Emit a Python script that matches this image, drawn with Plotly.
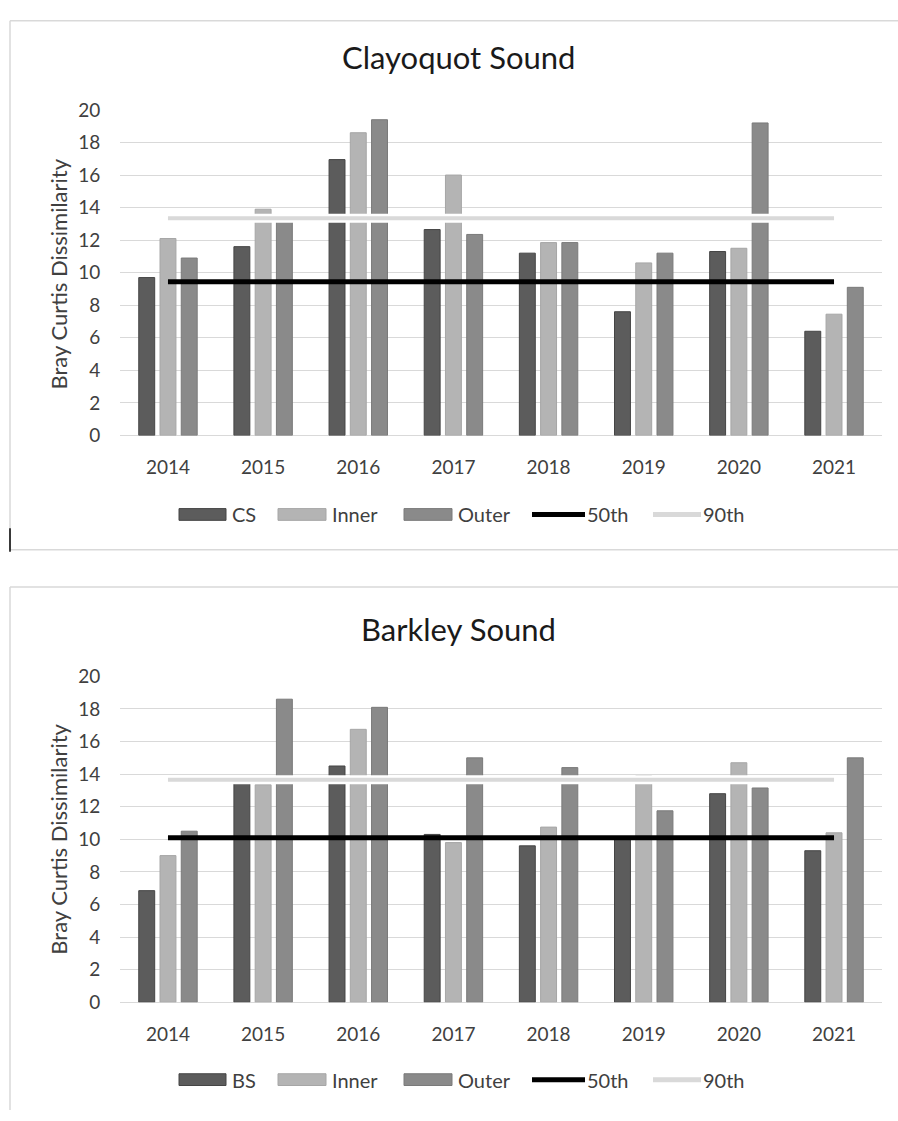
import plotly.graph_objects as go

W, H = 898, 1121

years = ["2014", "2015", "2016", "2017", "2018", "2019", "2020", "2021"]

# Clayoquot Sound
cs_site = [9.7, 11.6, 16.95, 12.65, 11.2, 7.6, 11.3, 6.4]
cs_inner = [12.1, 13.9, 18.6, 16.0, 11.85, 10.6, 11.5, 7.45]
cs_outer = [10.9, 13.2, 19.4, 12.35, 11.85, 11.2, 19.2, 9.1]
cs_p50 = 9.45
cs_p90 = 13.35

# Barkley Sound
bs_site = [6.85, 13.5, 14.5, 10.3, 9.6, 10.1, 12.8, 9.3]
bs_inner = [9.0, 13.35, 16.75, 9.8, 10.75, 13.9, 14.7, 10.4]
bs_outer = [10.5, 18.6, 18.1, 15.0, 14.4, 11.75, 13.15, 15.0]
bs_p50 = 10.1
bs_p90 = 13.65

bar_names_top = ["CS", "Inner", "Outer"]
bar_names_bot = ["BS", "Inner", "Outer"]
line_names = ["50th", "90th"]

FONT = "Lato"
TXT = "#404040"
GRID = "#d9d9d9"
BOX = "#d9d9d9"
bar_fill = ["#5c5c5c", "#b4b4b4", "#8a8a8a"]
bar_edge = ["#454545", "#a6a6a6", "#7a7a7a"]
p50_col = "#000000"
p90_col = "#d9d9d9"


def px(x):
    return x / W


def py(y):
    return 1 - y / H


fig = go.Figure()


def add_panel(xa, ya, vals, names, p50, p90):
    xr = "x" if xa == 1 else "x%d" % xa
    yr = "y" if ya == 1 else "y%d" % ya
    for i, (v, n) in enumerate(zip(vals, names)):
        fig.add_trace(go.Bar(
            x=years, y=v, name=n, xaxis=xr, yaxis=yr,
            marker=dict(color=bar_fill[i], line=dict(color=bar_edge[i], width=1)),
            showlegend=False))
    # 90th percentile line with white halo
    fig.add_trace(go.Scatter(x=years, y=[p90] * len(years), mode="lines",
                             line=dict(color="white", width=9), xaxis=xr, yaxis=yr,
                             showlegend=False, hoverinfo="skip"))
    fig.add_trace(go.Scatter(x=years, y=[p90] * len(years), mode="lines", name="90th",
                             line=dict(color=p90_col, width=4), xaxis=xr, yaxis=yr,
                             showlegend=False))
    fig.add_trace(go.Scatter(x=years, y=[p50] * len(years), mode="lines", name="50th",
                             line=dict(color=p50_col, width=5), xaxis=xr, yaxis=yr,
                             showlegend=False))


add_panel(1, 1, [cs_site, cs_inner, cs_outer], bar_names_top, cs_p50, cs_p90)
add_panel(2, 2, [bs_site, bs_inner, bs_outer], bar_names_bot, bs_p50, bs_p90)

xdom = [px(120.4), px(881.6)]
axis_x = dict(domain=xdom, showgrid=False, showline=False, zeroline=False,
              tickfont=dict(family=FONT, size=19, color=TXT), ticks="",
              ticklabelstandoff=19, fixedrange=True)
axis_y = dict(range=[0, 20], dtick=2, showgrid=True, gridcolor=GRID, gridwidth=1,
              zeroline=True, zerolinecolor=GRID, zerolinewidth=1, showline=False,
              tickfont=dict(family=FONT, size=19, color=TXT), ticks="",
              ticklabelstandoff=19, fixedrange=True)

fig.update_layout(
    width=W, height=H,
    margin=dict(l=0, r=0, t=0, b=0),
    paper_bgcolor="white", plot_bgcolor="white",
    barmode="group", bargap=0.33, bargroupgap=0.25,
    xaxis=dict(axis_x, anchor="y"),
    yaxis=dict(axis_y, domain=[py(432.3), py(100)], anchor="x"),
    xaxis2=dict(axis_x, anchor="y2"),
    yaxis2=dict(axis_y, domain=[py(1011), py(678.3)], anchor="x2"),
    showlegend=False,
)

shapes = []
annotations = []


def pline(x0, y0, x1, y1, color=BOX, width=1.5):
    shapes.append(dict(type="line", xref="paper", yref="paper", x0=px(x0), x1=px(x1),
                       y0=py(y0), y1=py(y1), line=dict(color=color, width=width),
                       layer="below"))


# chart boxes (open on the right / bottom like the cropped reference)
pline(10, 9, 898, 9)
pline(10, 9, 10, 549)
pline(10, 549, 898, 549)
pline(10, 587, 898, 587)
pline(10, 587, 10, 1121)
shapes.append(dict(type="line", xref="paper", yref="paper", x0=px(10), x1=px(10),
                   y0=py(527), y1=py(551), line=dict(color="#000000", width=1.5)))

# titles
for title, ty in [("Clayoquot Sound", 46), ("Barkley Sound", 630)]:
    annotations.append(dict(text=title, xref="paper", yref="paper", x=px(458), y=py(ty),
                            showarrow=False, xanchor="center", yanchor="middle",
                            font=dict(family=FONT, size=31, color="#1a1a1a")))

# y axis titles
for cy in [268, 845]:
    annotations.append(dict(text="Bray Curtis Dissimilarity", xref="paper", yref="paper",
                            x=px(59), y=py(cy), showarrow=False, textangle=-90,
                            xanchor="center", yanchor="middle",
                            font=dict(family=FONT, size=22, color=TXT)))


# legends (manual, to reproduce the wide swatches)
def legend(ly, names):
    sw = [(179, 226), (278, 326), (404, 452)]
    for (a, b), n, f, e in zip(sw, names, bar_fill, bar_edge):
        shapes.append(dict(type="rect", xref="paper", yref="paper", x0=px(a), x1=px(b),
                           y0=py(ly + 6), y1=py(ly - 6), fillcolor=f,
                           line=dict(color=e, width=1)))
        annotations.append(dict(text=n, xref="paper", yref="paper", x=px(b + 4), y=py(ly),
                                showarrow=False, xanchor="left", yanchor="middle",
                                font=dict(family=FONT, size=20, color=TXT)))
    for (a, b), n, c in zip([(532, 585), (653, 701)], line_names, [p50_col, p90_col]):
        shapes.append(dict(type="line", xref="paper", yref="paper", x0=px(a), x1=px(b),
                           y0=py(ly), y1=py(ly), line=dict(color=c, width=5)))
        annotations.append(dict(text=n, xref="paper", yref="paper", x=px(b), y=py(ly),
                                showarrow=False, xanchor="left", yanchor="middle",
                                font=dict(family=FONT, size=20, color=TXT)))


legend(513, bar_names_top)
legend(1090, bar_names_bot)

fig.update_layout(shapes=shapes, annotations=annotations)

fig.write_html("out.html", config={"displayModeBar": False},
               post_script="document.body.style.margin='0';document.body.style.overflow='hidden';")
